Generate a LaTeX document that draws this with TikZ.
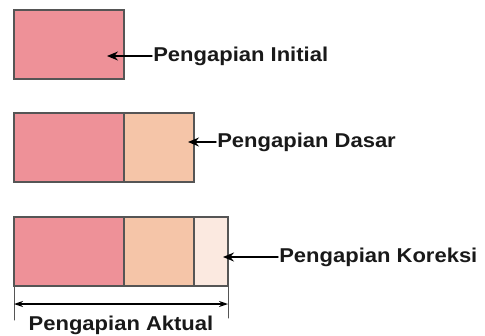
\documentclass[tikz,border=0pt]{standalone}
\usepackage{fontspec}
\setmainfont{Liberation Sans}
\usetikzlibrary{arrows.meta,positioning}
\definecolor{initcol}{RGB}{238,145,152}
\definecolor{dasarcol}{RGB}{245,197,168}
\definecolor{korcol}{RGB}{251,233,224}
\definecolor{edgecol}{RGB}{85,85,85}

\tikzset{
  seg/.style={draw=edgecol,line width=1.6pt,outer sep=0pt,inner sep=0pt,minimum height=69pt},
  lbl/.style={font=\fontsize{20}{23}\selectfont\bfseries,xscale=1.1,inner sep=1pt,text=black!90},
  pointer/.style={-{Stealth[length=11pt,width=9pt]},line width=1.4pt}
}

\begin{document}
\begin{tikzpicture}[x=1pt,y=-1pt,line cap=round]
\useasboundingbox (0,0) rectangle (485,335);
\node[seg,fill=initcol,minimum width=110pt,anchor=north west] (a1) at (14,10) {};
\node[seg,fill=initcol,minimum width=110pt,anchor=north west] (a2) at (14,113) {};
\node[seg,fill=dasarcol,minimum width=70pt,right=0pt of a2] (b2) {};
\node[seg,fill=initcol,minimum width=110pt,anchor=north west] (a3) at (14,217) {};
\node[seg,fill=dasarcol,minimum width=70pt,right=0pt of a3] (b3) {};
\node[seg,fill=korcol,minimum width=34pt,right=0pt of b3] (c3) {};
\node[lbl,anchor=west] (l1) at (152,56) {Pengapian Initial};
\node[lbl,anchor=west] (l2) at (216,142) {Pengapian Dasar};
\node[lbl,anchor=west] (l3) at (278,257) {Pengapian Koreksi};
\coordinate (t1) at (107,56);
\coordinate (t2) at (188,142);
\coordinate (t3) at (223,257);
\draw[pointer] (l1.west) -- (t1);
\draw[pointer] (l2.west) -- (t2);
\draw[pointer] (l3.west) -- (t3);
\coordinate (d1) at (14,320);
\coordinate (d2) at (228,318);
\coordinate (e1) at (14,304);
\coordinate (e2) at (228,304);
\draw[line width=1pt,edgecol] (a3.south west) -- (d1);
\draw[line width=1pt,edgecol] (c3.south east) -- (d2);
\draw[{Stealth[length=9pt,width=6pt]}-{Stealth[length=9pt,width=6pt]},line width=1.3pt] (e1) -- (e2);
\node[lbl,anchor=base] (ak) at (121,330) {Pengapian Aktual};
\end{tikzpicture}
\end{document}
